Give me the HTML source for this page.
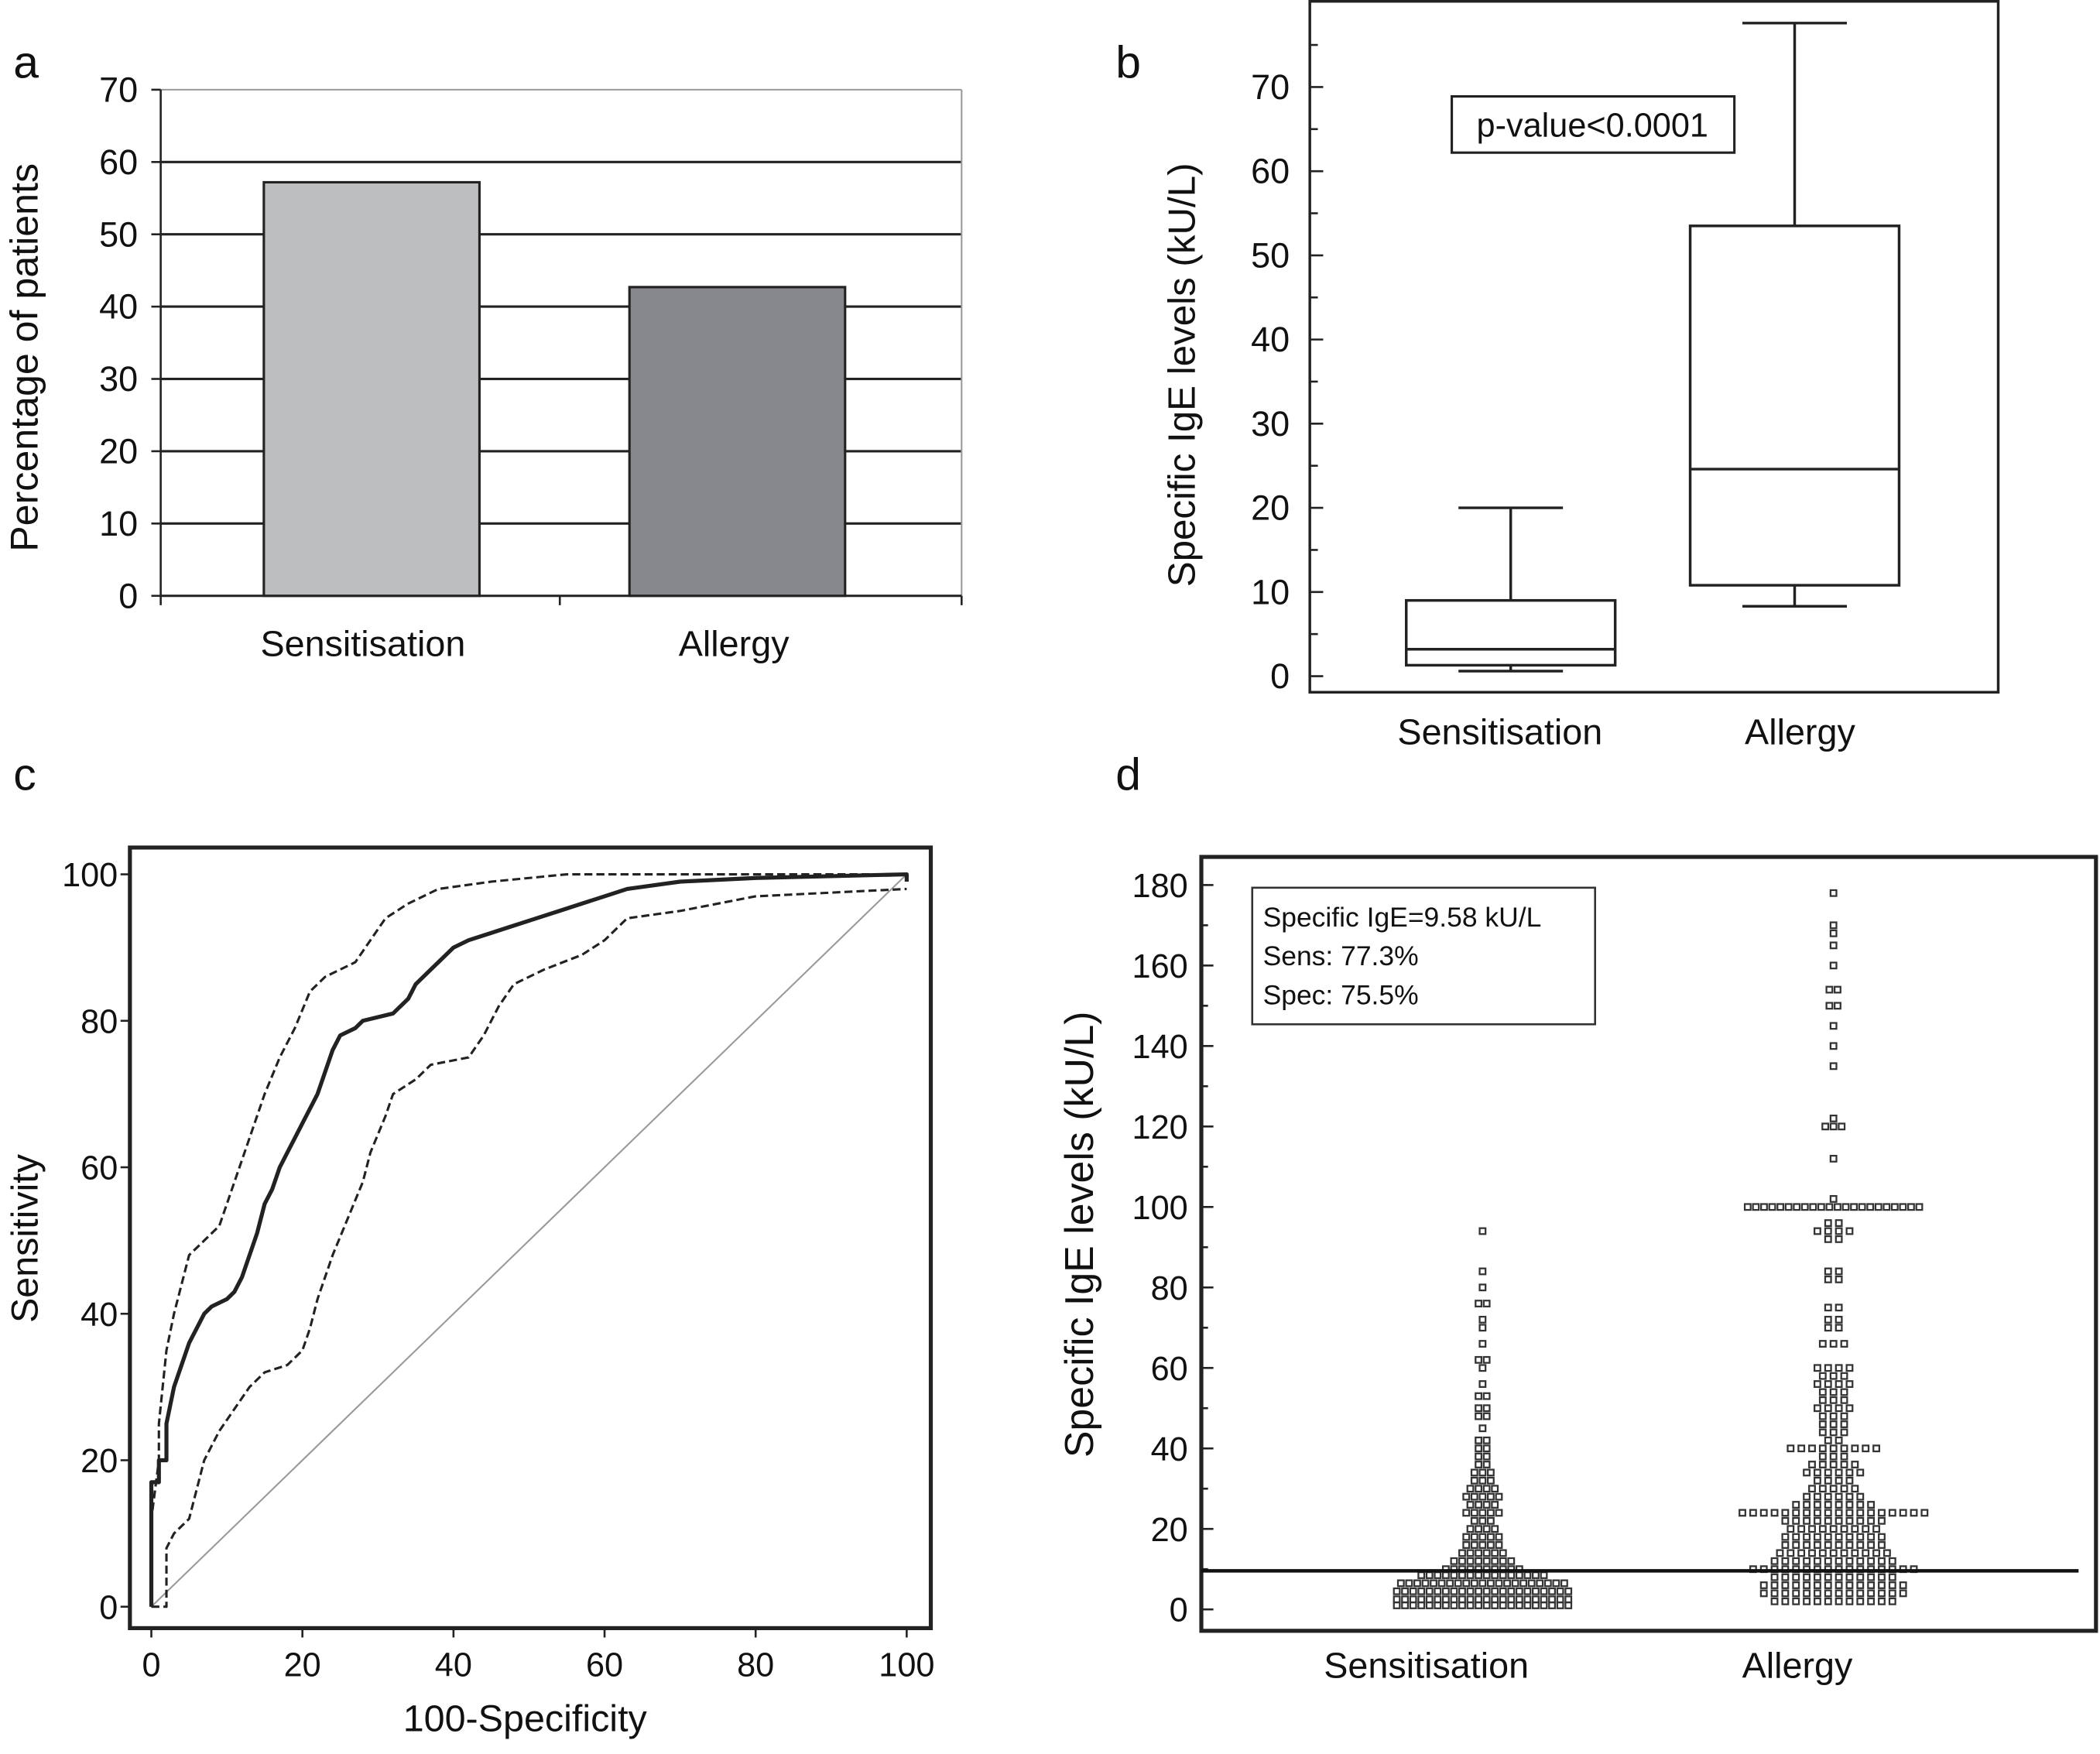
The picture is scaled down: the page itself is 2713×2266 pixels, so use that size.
<!DOCTYPE html>
<html><head><meta charset="utf-8"><style>
html,body{margin:0;padding:0;background:#fff}
svg{display:block}
text{font-family:"Liberation Sans",sans-serif;fill:#111}
</style></head><body>
<svg id="s" width="2713" height="2266" viewBox="0 0 1568 1310" preserveAspectRatio="none" xmlns="http://www.w3.org/2000/svg">
<g id="ga"></g>
<g id="gb"></g>
<g id="gc"></g>
<g id="gd"></g>
</svg>
<script>
// Panel a data
const aCats = ["Sensitisation","Allergy"];
const aVals = [57.2, 42.7];
const aTicks = [0,10,20,30,40,50,60,70];
// Panel b data
const bCats = ["Sensitisation","Allergy"];
const bMin = [0.6, 8.3];
const bQ1 = [1.3, 10.8];
const bMed = [3.2, 24.6];
const bQ3 = [9.0, 53.5];
const bMax = [20, 77.6];
const bTicks = [0,10,20,30,40,50,60,70];
// Panel c data
const cMainX = [0,0,1,1,2,2,3,4,5,6,7,8,10,11,12,13,14,15,16,17,18,19,20,21,22,23,24,25,27,28,32,34,35,37,39,40,42,45,48,51,54,57,60,63,70,80,100,100];
const cMainY = [0,17,17,20,20,25,30,33,36,38,40,41,42,43,45,48,51,55,57,60,62,64,66,68,70,73,76,78,79,80,81,83,85,87,89,90,91,92,93,94,95,96,97,98,99,99.5,100,99];
const cUpX = [0,0,1,1,2,3,4,5,7,9,11,13,15,17,19,21,23,25,27,29,31,34,38,45,55,100];
const cUpY = [0,12,20,25,35,40,44,48,50,52,58,64,70,75,79,84,86,87,88,91,94,96,98,99,100,100];
const cLoX = [0,2,2,3,5,6,7,9,11,13,15,18,20,21,22,24,26,28,29,31,32,35,37,42,44,46,48,52,57,60,63,70,80,100];
const cLoY = [0,0,8,10,12,16,20,24,27,30,32,33,35,38,42,48,53,58,62,67,70,72,74,75,78,82,85,87,89,91,94,95,97,98];
const cTicks = [0,20,40,60,80,100];
// Panel d data
const dCats = ["Sensitisation","Allergy"];
const sensVals = [1,2.5,4.5,6.5,8.5,10,12,14,16,18,20,22,24,26,28,30,32,34,36,38,40,42,45,48,50,53,56,60,62,66,70,72,76,80,84,94];
const sensCounts=[22,22,22,21,16,10,8,6,5,5,4,3,5,4,5,4,3,3,2,2,2,2,1,2,2,2,1,1,2,1,1,1,2,1,1,1];
const allVals = [2,4,6,8,10,12,14,16,18,20,22,24,26,28,30,32,34,36,38,40,42,44,46,48,50,52,54,56,58,60,66,70,72,75,82,84,92,94,96,100,102,112,120,122,135,140,145,150,154,160,165,168,170,178];
const allCounts=[12,14,14,12,16,12,11,10,10,9,10,18,8,6,5,4,6,5,3,9,2,3,3,3,4,3,3,4,3,4,3,2,2,2,2,2,2,4,2,22,1,1,3,1,1,1,1,2,2,1,1,1,1,1];
const dTicks = [0,20,40,60,80,100,120,140,160,180];
const cutoff = 9.58;

const NS="http://www.w3.org/2000/svg";
function mk(par,tag,at,txt){const e=document.createElementNS(NS,tag);for(const k in at)e.setAttribute(k,at[k]);if(txt!==undefined)e.textContent=txt;par.appendChild(e);return e;}

// ---------- Panel a ----------
(function(){
const g=document.getElementById('ga');
const x0=120,x1=718,yA=v=>445-v*(378/70);
let t=mk(g,'text',{x:10,y:58,'font-size':34},'a');


aTicks.forEach(v=>{
 const y=yA(v);
 if(v>0){let l=mk(g,'line',{x1:x0,x2:x1,y1:y,y2:y,stroke:v==70?'#999':'#222','stroke-width':v==70?1.2:1.8});
 
 }
 mk(g,'line',{x1:x0-7,x2:x0,y1:y,y2:y,stroke:'#222','stroke-width':1.5});
 let tl=mk(g,'text',{x:103,y:y+9,'font-size':26,'text-anchor':'end'},v);
 
 
});
mk(g,'line',{x1:x1,x2:x1,y1:yA(70),y2:yA(0),stroke:'#999','stroke-width':1.2});
mk(g,'line',{x1:x0,x2:x0,y1:yA(70),y2:yA(0),stroke:'#222','stroke-width':1.5});
mk(g,'line',{x1:x0,x2:x1,y1:yA(0),y2:yA(0),stroke:'#222','stroke-width':1.8});
[120,418,718].forEach(x=>mk(g,'line',{x1:x,x2:x,y1:445,y2:452,stroke:'#222','stroke-width':1.5}));
const cols=['#bdbec0','#87888c'];
aCats.forEach((c,i)=>{
 const bx=(i==0?197:470);
 let r=mk(g,'rect',{x:bx,y:yA(aVals[i]),width:161,height:yA(0)-yA(aVals[i]),fill:cols[i],stroke:'#222','stroke-width':1.8});
 
 
 let tl=mk(g,'text',{x:bx+(i==0?74:78),y:490,'font-size':27,'text-anchor':'middle'},c);
 
 
});
let yt=mk(g,'text',{x:0,y:0,'font-size':29,'text-anchor':'middle',transform:'translate(28,267) rotate(-90)'},'Percentage of patients');


})();

// ---------- Panel b ----------
(function(){
const g=document.getElementById('gb');
const yB=v=>505-v*(440/70);
let t=mk(g,'text',{x:833,y:58,'font-size':34},'b');


let fr=mk(g,'rect',{x:978,y:1,width:514,height:516,fill:'none',stroke:'#222','stroke-width':2});


for(let v=0;v<=75;v+=5){const y=yB(v);mk(g,'line',{x1:978,x2:978+(v%10==0?10:6),y1:y,y2:y,stroke:'#222','stroke-width':1.5});}
bTicks.forEach(v=>{let tl=mk(g,'text',{x:963,y:yB(v)+9,'font-size':26,'text-anchor':'end'},v);
 
 });
const cxs=[1128,1340];
bCats.forEach((c,i)=>{
 const cx=cxs[i],hw=78;
 const bg=mk(g,'g',{});
 
 
 mk(bg,'line',{x1:cx,x2:cx,y1:yB(bMax[i]),y2:yB(bQ3[i]),stroke:'#222','stroke-width':2});
 mk(bg,'line',{x1:cx,x2:cx,y1:yB(bQ1[i]),y2:yB(bMin[i]),stroke:'#222','stroke-width':2});
 mk(bg,'line',{x1:cx-39,x2:cx+39,y1:yB(bMax[i]),y2:yB(bMax[i]),stroke:'#222','stroke-width':2});
 mk(bg,'line',{x1:cx-39,x2:cx+39,y1:yB(bMin[i]),y2:yB(bMin[i]),stroke:'#222','stroke-width':2});
 mk(bg,'rect',{x:cx-hw,y:yB(bQ3[i]),width:hw*2,height:yB(bQ1[i])-yB(bQ3[i]),fill:'#fff',stroke:'#222','stroke-width':2});
 mk(bg,'line',{x1:cx-hw,x2:cx+hw,y1:yB(bMed[i]),y2:yB(bMed[i]),stroke:'#222','stroke-width':2});
 let tl=mk(g,'text',{x:[1120,1344][i],y:556,'font-size':27,'text-anchor':'middle'},c);
 
 
});
let pb=mk(g,'rect',{x:1084,y:72,width:211,height:42,fill:'#fff',stroke:'#222','stroke-width':1.8});


let pt=mk(g,'text',{x:1189,y:102,'font-size':25,'text-anchor':'middle'},'p-value<0.0001');


let yt=mk(g,'text',{x:0,y:0,'font-size':28.5,'text-anchor':'middle',transform:'translate(892,280) rotate(-90)'},'Specific IgE levels (kU/L)');


})();

// ---------- Panel c ----------
(function(){
const g=document.getElementById('gc');
const xC=v=>113+v*5.64, yC=v=>1200-v*5.47;
let t=mk(g,'text',{x:10,y:590,'font-size':34},'c');


let fr=mk(g,'rect',{x:97,y:633,width:598,height:583,fill:'none',stroke:'#222','stroke-width':3});


cTicks.forEach(v=>{
 mk(g,'line',{x1:97,x2:90,y1:yC(v),y2:yC(v),stroke:'#222','stroke-width':1.5});
 let tl=mk(g,'text',{x:88,y:yC(v)+9,'font-size':25,'text-anchor':'end'},v);
 
 
 mk(g,'line',{x1:xC(v),x2:xC(v),y1:1216,y2:1223,stroke:'#222','stroke-width':1.5});
 let xl=mk(g,'text',{x:xC(v),y:1252,'font-size':25,'text-anchor':'middle'},v);
 
 
});
let d=mk(g,'line',{x1:xC(0),y1:yC(0),x2:xC(100),y2:yC(100),stroke:'#999','stroke-width':1.2});


function pl(X,Y,name,w,dash){
 const pts=X.map((x,i)=>xC(x)+','+yC(Y[i])).join(' ');
 const p=mk(g,'polyline',{points:pts,fill:'none',stroke:'#222','stroke-width':w,'stroke-dasharray':dash||'none','stroke-linejoin':'round'});
 
 
}
pl(cUpX,cUpY,'roc-upper-ci',1.8,'6,3');
pl(cLoX,cLoY,'roc-lower-ci',1.8,'6,3');
pl(cMainX,cMainY,'roc-curve',3);
let xt=mk(g,'text',{x:392,y:1293,'font-size':28,'text-anchor':'middle'},'100-Specificity');


let yt=mk(g,'text',{x:0,y:0,'font-size':28,'text-anchor':'middle',transform:'translate(28,925) rotate(-90)'},'Sensitivity');


})();

// ---------- Panel d ----------
(function(){
const g=document.getElementById('gd');
const yD=v=>1202-v*(541/180);
let t=mk(g,'text',{x:833,y:590,'font-size':34},'d');


let fr=mk(g,'rect',{x:897,y:640,width:668,height:578,fill:'none',stroke:'#222','stroke-width':3});


for(let v=0;v<=180;v+=10){mk(g,'line',{x1:897,x2:897+(v%20==0?9:5),y1:yD(v),y2:yD(v),stroke:'#222','stroke-width':1.5});}
dTicks.forEach(v=>{let tl=mk(g,'text',{x:887,y:yD(v)+9,'font-size':25,'text-anchor':'end'},v);
 
 });
const cxs=[1107,1369];
[[sensVals,sensCounts],[allVals,allCounts]].forEach((grp,gi)=>{
 const [vals,cnts]=grp;
 vals.forEach((v,i)=>{
  const n=cnts[i],sp=gi==1&&v<100?8:6.1;
  for(let k=0;k<n;k++){
   const x=cxs[gi]+(k-(n-1)/2)*sp;
   const r=mk(g,'rect',{x:x-2.2,y:yD(v)-2.2,width:4.4,height:4.4,fill:'#fff',stroke:'#333','stroke-width':1.3});
   
   
  }
 });
 let tl=mk(g,'text',{x:[1065,1342][gi],y:1253,'font-size':27,'text-anchor':'middle'},dCats[gi]);
 
 
});
let cl=mk(g,'line',{x1:897,x2:1552,y1:yD(cutoff),y2:yD(cutoff),stroke:'#111','stroke-width':2.6});


let ab=mk(g,'rect',{x:935,y:663,width:256,height:102,fill:'#fff',stroke:'#333','stroke-width':1.5});


['Specific IgE=9.58 kU/L','Sens: 77.3%','Spec: 75.5%'].forEach((s,i)=>{
 let tx=mk(g,'text',{x:943,y:692+i*29,'font-size':20.5},s);
 
 
});
let yt=mk(g,'text',{x:0,y:0,'font-size':30,'text-anchor':'middle',transform:'translate(816,922) rotate(-90)'},'Specific IgE levels (kU/L)');


})();
</script>
</body></html>
